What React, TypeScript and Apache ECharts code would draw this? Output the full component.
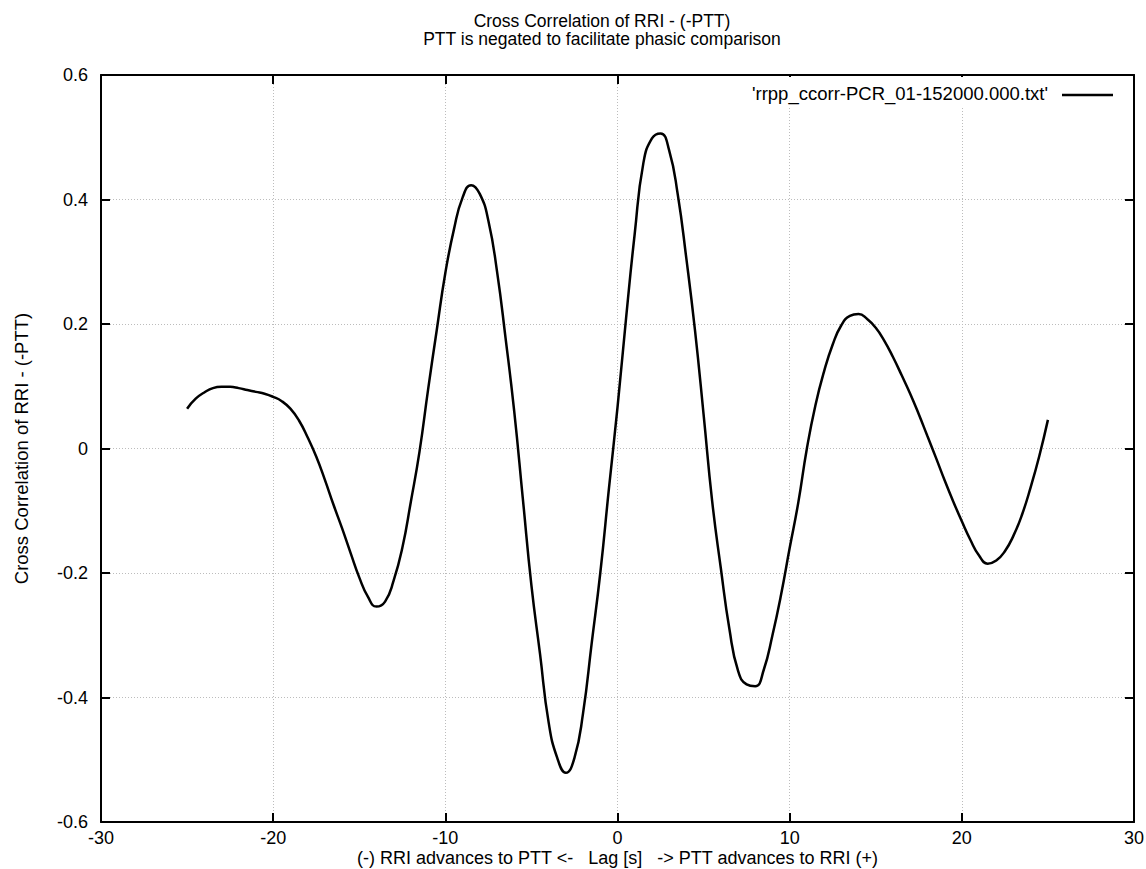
import React, { useEffect, useRef } from "react";
import * as echarts from "echarts";

const lagSeconds: number[] = [
  -25, -24.5, -24, -23.5, -23, -22.5, -22, -21.5, -21, -20.5,
  -20, -19.5, -19, -18.5, -18, -17.5, -17, -16.5, -16, -15.5,
  -15, -14.5, -14, -13.5, -13, -12.5, -12, -11.5, -11, -10.5,
  -10, -9.5, -9, -8.5, -8, -7.5, -7, -6.5, -6, -5.5,
  -5, -4.5, -4, -3.5, -3, -2.5, -2, -1.5, -1, -0.5,
  0, 0.5, 1, 1.5, 2, 2.5, 3, 3.5, 4, 4.5,
  5, 5.5, 6, 6.5, 7, 7.5, 8, 8.5, 9, 9.5,
  10, 10.5, 11, 11.5, 12, 12.5, 13, 13.5, 14, 14.5,
  15, 15.5, 16, 16.5, 17, 17.5, 18, 18.5, 19, 19.5,
  20, 20.5, 21, 21.5, 22, 22.5, 23, 23.5, 24, 24.5, 25,
];

const correlation: number[] = [
  0.064, 0.080, 0.090, 0.097, 0.099, 0.099, 0.097, 0.094, 0.091, 0.088,
  0.083, 0.076, 0.064, 0.045, 0.018, -0.013, -0.050, -0.090, -0.128, -0.168,
  -0.207, -0.238, -0.254, -0.246, -0.212, -0.160, -0.085, -0.005, 0.095, 0.190,
  0.282, 0.352, 0.403, 0.423, 0.409, 0.366, 0.285, 0.177, 0.060, -0.080,
  -0.220, -0.330, -0.440, -0.497, -0.521, -0.497, -0.425, -0.313, -0.200, -0.065,
  0.066, 0.210, 0.345, 0.458, 0.498, 0.506, 0.479, 0.408, 0.305, 0.190,
  0.055, -0.085, -0.192, -0.290, -0.357, -0.379, -0.382, -0.355, -0.300, -0.235,
  -0.160, -0.087, 0.000, 0.070, 0.124, 0.167, 0.198, 0.213, 0.216, 0.208,
  0.194, 0.173, 0.147, 0.118, 0.088, 0.055, 0.020, -0.015, -0.051, -0.085,
  -0.117, -0.147, -0.172, -0.185, -0.180, -0.165, -0.140, -0.106, -0.062, -0.012, 0.046,
];

const titleLines: string[] = [
  "Cross Correlation of RRI - (-PTT)",
  "PTT is negated to facilitate phasic comparison",
];
const seriesName = "'rrpp_ccorr-PCR_01-152000.000.txt'";
const xAxisName =
  "(-) RRI advances to PTT <-\u00a0\u00a0\u00a0Lag [s]\u00a0\u00a0\u00a0-> PTT advances to RRI (+)";
const yAxisName = "Cross Correlation of RRI - (-PTT)";

const FONT = '"Liberation Sans", Arial, sans-serif';

export default function App() {
  const ref = useRef<HTMLDivElement>(null);

  useEffect(() => {
    document.body.style.margin = "0";
    if (!ref.current) return;
    const chart = echarts.init(ref.current, undefined, { renderer: "svg" });

    const yFmt = (v: number) => {
      const r = Math.round(v * 10) / 10;
      return r === 0 ? "0" : r.toFixed(1);
    };
    const xFmt = (v: number) => String(Math.round(v));

    const axisLine = { show: true, onZero: false, lineStyle: { color: "#000", width: 2 } };
    const tick = { show: true, inside: true, length: 9, lineStyle: { color: "#000", width: 2 } };
    const split = { show: true, lineStyle: { color: "#bcbcbc", width: 1, type: [1, 2] as any } };

    chart.setOption({
      animation: false,
      backgroundColor: "#fff",
      textStyle: { fontFamily: FONT },
      grid: {
        left: 101,
        top: 75,
        right: 12,
        bottom: 47,
        containLabel: false,
        outerBoundsMode: "none",
      },
      xAxis: [
        {
          type: "value",
          min: -30,
          max: 30,
          interval: 10,
          position: "bottom",
          axisLine,
          axisTick: tick,
          splitLine: split,
          axisLabel: { color: "#000", fontSize: 18, margin: 7, fontFamily: FONT, formatter: xFmt },
          name: xAxisName,
          nameLocation: "middle",
          nameGap: 27,
          nameMoveOverlap: false,
          nameTextStyle: { color: "#000", fontSize: 18, fontFamily: FONT, verticalAlign: "top" },
        },
        {
          type: "value",
          min: -30,
          max: 30,
          interval: 10,
          position: "top",
          axisLine,
          axisTick: tick,
          splitLine: { show: false },
          axisLabel: { show: false },
        },
      ],
      yAxis: [
        {
          type: "value",
          min: -0.6,
          max: 0.6,
          interval: 0.2,
          position: "left",
          axisLine,
          axisTick: tick,
          splitLine: split,
          axisLabel: { color: "#000", fontSize: 18, margin: 13, fontFamily: FONT, formatter: yFmt },
          name: yAxisName,
          nameLocation: "middle",
          nameGap: 70,
          nameMoveOverlap: false,
          nameTextStyle: { color: "#000", fontSize: 18.5, fontFamily: FONT },
        },
        {
          type: "value",
          min: -0.6,
          max: 0.6,
          interval: 0.2,
          position: "right",
          axisLine,
          axisTick: tick,
          splitLine: { show: false },
          axisLabel: { show: false },
        },
      ],
      graphic: [
        {
          type: "rect",
          z: 50,
          shape: { x: 745, y: 77, width: 380, height: 30 },
          style: { fill: "#fff" },
        },
        {
          type: "text",
          z: 51,
          style: {
            text: seriesName,
            x: 1048,
            y: 93,
            align: "right",
            verticalAlign: "middle",
            font: `18.5px ${FONT}`,
            fill: "#000",
          },
        },
        {
          type: "line",
          z: 51,
          shape: { x1: 1062, y1: 95, x2: 1113, y2: 95 },
          style: { stroke: "#000", lineWidth: 2.5 },
        },
        {
          type: "text",
          style: {
            text: titleLines[0],
            x: 602,
            y: 21,
            align: "center",
            verticalAlign: "middle",
            font: `17.5px ${FONT}`,
            fill: "#000",
          },
        },
        {
          type: "text",
          style: {
            text: titleLines[1],
            x: 602,
            y: 39,
            align: "center",
            verticalAlign: "middle",
            font: `17.5px ${FONT}`,
            fill: "#000",
          },
        },
      ],
      series: [
        {
          name: seriesName,
          type: "line",
          xAxisIndex: 0,
          yAxisIndex: 0,
          data: lagSeconds.map((x, i) => [x, correlation[i]]),
          smooth: 0.5,
          showSymbol: false,
          symbol: "none",
          lineStyle: { color: "#000", width: 2.5 },
          z: 10,
        },
      ],
    });

    return () => chart.dispose();
  }, []);

  return <div ref={ref} style={{ width: 1146, height: 869 }} />;
}
